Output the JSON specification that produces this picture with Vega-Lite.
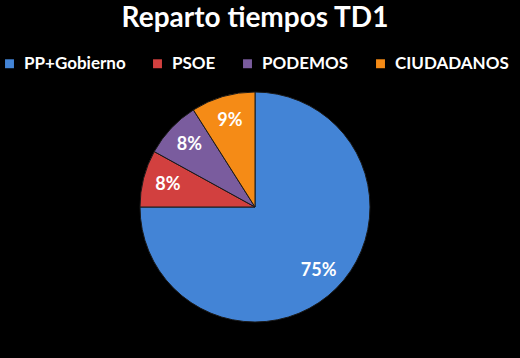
{
  "$schema": "https://vega.github.io/schema/vega-lite/v6.json",
  "autosize": "none",
  "width": 230,
  "height": 230,
  "padding": {"left": 140, "top": 92, "right": 150, "bottom": 36},
  "background": "#000000",
  "title": {
    "text": "Reparto tiempos TD1",
    "color": "#ffffff",
    "font": "Lato",
    "fontSize": 28,
    "fontWeight": "bold",
    "anchor": "middle",
    "frame": "group",
    "offset": 22
  },
  "config": {"view": {"stroke": null}},
  "data": {
    "values": [
      {"partido": "PP+Gobierno", "pct": 75, "orden": 1, "etiqueta": "75%"},
      {"partido": "PSOE", "pct": 8, "orden": 2, "etiqueta": "8%"},
      {"partido": "PODEMOS", "pct": 8, "orden": 3, "etiqueta": "8%"},
      {"partido": "CIUDADANOS", "pct": 9, "orden": 4, "etiqueta": "9%"}
    ]
  },
  "encoding": {
    "theta": {"field": "pct", "type": "quantitative", "stack": true},
    "order": {"field": "orden", "type": "quantitative"}
  },
  "layer": [
    {
      "mark": {"type": "arc", "stroke": "#1a1a1a", "strokeWidth": 1},
      "encoding": {
        "color": {
          "field": "partido",
          "type": "nominal",
          "scale": {
            "domain": ["PP+Gobierno", "PSOE", "PODEMOS", "CIUDADANOS"],
            "range": ["#4384d6", "#d2403f", "#7a5c9e", "#f58b16"]
          },
          "legend": {
            "title": null,
            "orient": "none",
            "direction": "horizontal",
            "legendX": -139,
            "legendY": -37,
            "symbolType": "square",
            "symbolSize": 80,
            "symbolStrokeWidth": 0,
            "labelColor": "#ffffff",
            "labelFont": "Lato",
            "labelFontSize": 17,
            "labelFontWeight": "bold",
            "labelOffset": 6,
            "columnPadding": 23,
            "labelLimit": 300
          }
        }
      }
    },
    {
      "mark": {"type": "text", "radius": 90, "color": "#ffffff", "font": "Lato", "fontSize": 18, "fontWeight": "bold"},
      "encoding": {
        "text": {"field": "etiqueta", "type": "nominal"}
      }
    }
  ]
}
